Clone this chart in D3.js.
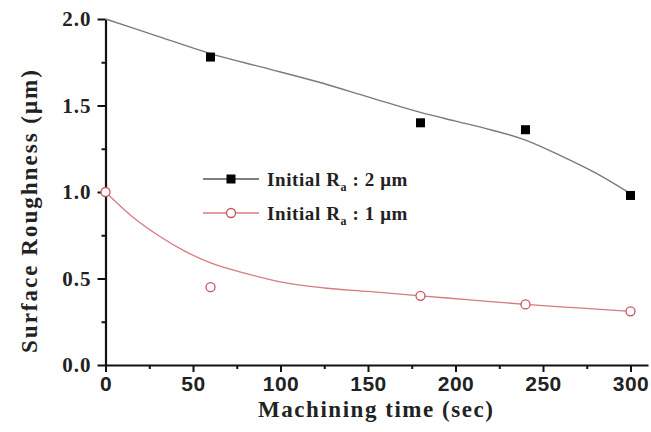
<!DOCTYPE html>
<html>
<head>
<meta charset="utf-8">
<script src="https://cdn.jsdelivr.net/npm/d3@7"></script>
<style>
  html, body { margin: 0; padding: 0; background: #fff; }
  svg { display: block; }
</style>
</head>
<body>
<svg id="chart" width="651" height="432"></svg>
<script>
// Measured roughness, initial Ra = 2 µm
const timesRa2 = [60, 180, 240, 300];
const roughRa2 = [1.78, 1.40, 1.36, 0.98];
// Measured roughness, initial Ra = 1 µm
const timesRa1 = [0, 60, 180, 240, 300];
const roughRa1 = [1.00, 0.45, 0.40, 0.35, 0.31];

// Fitted trend curves
const fitTimesRa2 = [0, 30, 60, 90, 120, 150, 180, 200, 220, 240, 260, 280, 300];
const fitRoughRa2 = [2.00, 1.90, 1.80, 1.72, 1.64, 1.55, 1.46, 1.41, 1.36, 1.30, 1.21, 1.11, 0.99];
const fitTimesRa1 = [0, 15, 30, 45, 60, 80, 100, 125, 150, 180, 210, 240, 270, 300];
const fitRoughRa1 = [1.00, 0.86, 0.75, 0.66, 0.59, 0.53, 0.48, 0.445, 0.425, 0.40, 0.375, 0.35, 0.33, 0.31];

const xTicks = [0, 50, 100, 150, 200, 250, 300];
const xMinorTicks = [25, 75, 125, 175, 225, 275];
const yTicks = [0.0, 0.5, 1.0, 1.5, 2.0];
const yMinorTicks = [0.25, 0.75, 1.25, 1.75];

const svg = d3.select("#chart");
const x = d3.scaleLinear().domain([0, 310]).range([105.5, 648]);
const y = d3.scaleLinear().domain([0, 2]).range([365, 19]);

const serif = "'Liberation Serif', 'Times New Roman', serif";
const sans = "'Liberation Sans', Arial, sans-serif";

// Axes
const xAxis = svg.append("g").attr("transform", `translate(0,${y(0)})`)
  .call(d3.axisBottom(x).tickValues(xTicks).tickFormat(d3.format("d")).tickSizeInner(7).tickSizeOuter(0).tickPadding(4));
const xMinor = svg.append("g").attr("transform", `translate(0,${y(0)})`)
  .call(d3.axisBottom(x).tickValues(xMinorTicks).tickFormat("").tickSize(4).tickSizeOuter(0));
const yAxis = svg.append("g").attr("transform", `translate(${x(0)},0)`)
  .call(d3.axisLeft(y).tickValues(yTicks).tickFormat(d3.format(".1f")).tickSizeInner(8).tickSizeOuter(0).tickPadding(6));
const yMinor = svg.append("g").attr("transform", `translate(${x(0)},0)`)
  .call(d3.axisLeft(y).tickValues(yMinorTicks).tickFormat("").tickSize(4).tickSizeOuter(0));

[xAxis, xMinor, yAxis, yMinor].forEach(g => {
  g.select(".domain").attr("stroke", "#111").attr("stroke-width", 2.2);
  g.selectAll(".tick line").attr("stroke", "#111").attr("stroke-width", 2);
});
xMinor.select(".domain").remove();
yMinor.select(".domain").remove();

xAxis.selectAll(".tick text")
  .attr("font-family", sans).attr("font-weight", "bold").attr("font-size", 21)
  .attr("fill", "#222").attr("letter-spacing", 0.5);
yAxis.selectAll(".tick text")
  .attr("font-family", serif).attr("font-weight", "bold").attr("font-size", 21)
  .attr("fill", "#222").attr("letter-spacing", 1);

// Axis titles
svg.append("text")
  .attr("x", 375.5).attr("y", 417)
  .attr("text-anchor", "middle")
  .attr("font-family", serif).attr("font-weight", "bold").attr("font-size", 23)
  .attr("textLength", 235).attr("lengthAdjust", "spacing")
  .attr("fill", "#222")
  .text("Machining time (sec)");

svg.append("text")
  .attr("transform", "translate(37,211.5) rotate(-90)")
  .attr("text-anchor", "middle")
  .attr("font-family", serif).attr("font-weight", "bold").attr("font-size", 23)
  .attr("textLength", 283).attr("lengthAdjust", "spacing")
  .attr("fill", "#222")
  .text("Surface Roughness (\u03bcm)");

// Fitted curves
const line = d3.line().x(d => x(d[0])).y(d => y(d[1])).curve(d3.curveMonotoneX);
svg.append("path")
  .datum(d3.zip(fitTimesRa2, fitRoughRa2))
  .attr("d", line).attr("fill", "none").attr("stroke", "#7a7a7a").attr("stroke-width", 1.4);
svg.append("path")
  .datum(d3.zip(fitTimesRa1, fitRoughRa1))
  .attr("d", line).attr("fill", "none").attr("stroke", "#d77a82").attr("stroke-width", 1.3);

// Markers
const sq = 9;
svg.append("g").selectAll("rect")
  .data(d3.zip(timesRa2, roughRa2)).join("rect")
  .attr("x", d => x(d[0]) - sq / 2).attr("y", d => y(d[1]) - sq / 2)
  .attr("width", sq).attr("height", sq).attr("fill", "#000");
svg.append("g").selectAll("circle")
  .data(d3.zip(timesRa1, roughRa1)).join("circle")
  .attr("cx", d => x(d[0])).attr("cy", d => y(d[1])).attr("r", 4.5)
  .attr("fill", "#fff").attr("stroke", "#c9545e").attr("stroke-width", 1.3);

// Legend
const legend = [
  { label: "2", color: "#555", marker: "square", y: 179 },
  { label: "1", color: "#d77a82", marker: "circle", y: 213 }
];
legend.forEach(item => {
  const g = svg.append("g");
  g.append("line").attr("x1", 203).attr("x2", 259).attr("y1", item.y).attr("y2", item.y)
    .attr("stroke", item.color).attr("stroke-width", 1.4);
  if (item.marker === "square") {
    g.append("rect").attr("x", 231 - sq / 2).attr("y", item.y - sq / 2)
      .attr("width", sq).attr("height", sq).attr("fill", "#000");
  } else {
    g.append("circle").attr("cx", 231).attr("cy", item.y).attr("r", 4.5)
      .attr("fill", "#fff").attr("stroke", "#c9545e").attr("stroke-width", 1.3);
  }
  const t = g.append("text").attr("x", 267).attr("y", item.y + 7)
    .attr("font-family", serif).attr("font-weight", "bold").attr("font-size", 19)
    .attr("letter-spacing", 0.6).attr("fill", "#222");
  t.append("tspan").text("Initial R");
  t.append("tspan").attr("font-size", 12).attr("dy", 5).text("a");
  t.append("tspan").attr("dy", -5).text(` : ${item.label} \u03bcm`);
});
</script>
</body>
</html>
